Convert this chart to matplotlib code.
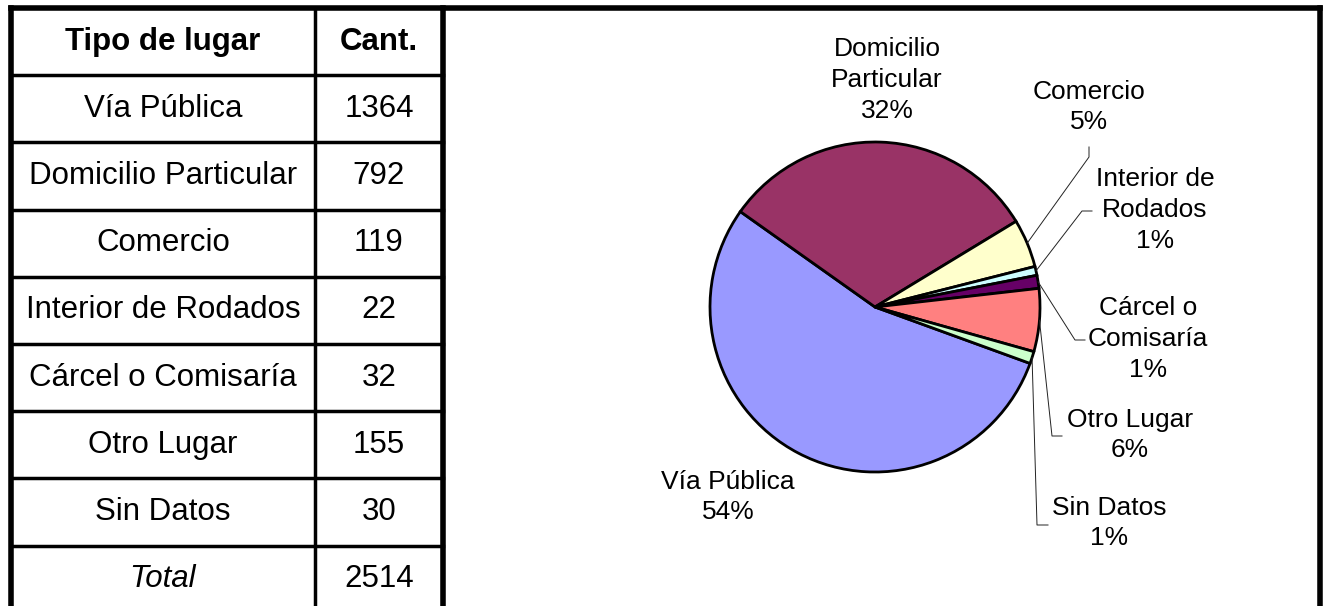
# Tabla y gráfico de torta: tipo de lugar

import numpy as np
import matplotlib.pyplot as plt

plt.rcParams['font.family'] = ['Liberation Sans', 'DejaVu Sans']

# Datos
tipos = ["Vía Pública", "Domicilio Particular", "Comercio", "Interior de Rodados",
         "Cárcel o Comisaría", "Otro Lugar", "Sin Datos"]
cantidades = [1364, 792, 119, 22, 32, 155, 30]
total = 2514
etiquetas = ["Vía Pública", "Domicilio\nParticular", "Comercio", "Interior de\nRodados",
             "Cárcel o\nComisaría", "Otro Lugar", "Sin Datos"]
colores = ["#9999FF", "#993366", "#FFFFCC", "#CCFFFF", "#660066", "#FF8080", "#CCFFCC"]

# posiciones de las etiquetas (px desde arriba) y quiebres de las líneas guía
pos_etiquetas = [(728, 497), (887, 80), (1089, 107), (1155, 210),
                 (1148, 339), (1130, 435), (1109, 523)]
quiebres = [None, None,
            [(1089, 157), (1089, 147)],
            [(1082, 211), (1092, 211)],
            [(1075, 340), (1085, 340)],
            [(1052, 436), (1062, 436)],
            [(1037, 525), (1048, 525)]]

W, H = 1327, 606
fig = plt.figure(figsize=(W / 100, H / 100), dpi=100)
ax = fig.add_axes([0, 0, 1, 1])


def Y(y):
    return H - y


# Tabla
top = 8
x_left, x_col, x_right, x_end = 11, 315, 443, 1320
row_h = 67.2
filas = [("Tipo de lugar", "Cant.")] + list(zip(tipos, cantidades)) + [("Total", total)]

for i, (t, c) in enumerate(filas):
    yc = Y(top + row_h * (i + 0.5))
    peso = 'bold' if i == 0 else 'normal'
    ax.text((x_left + x_col) / 2, yc, t, ha='center', va='center', fontsize=22.5,
            fontweight=peso, fontstyle='italic' if i == len(filas) - 1 else 'normal')
    ax.text((x_col + x_right) / 2, yc, str(c), ha='center', va='center', fontsize=22.5,
            fontweight=peso)
    if i > 0:
        ax.plot([x_left, x_right], [Y(top + row_h * i)] * 2, color='black', lw=2.5)

ax.plot([x_col, x_col], [Y(top), 0], color='black', lw=2.5)
for x in [x_left, x_right, x_end]:
    ax.plot([x, x], [Y(top), 0], color='black', lw=4, solid_capstyle='projecting')
ax.plot([x_left, x_end], [Y(top), Y(top)], color='black', lw=4, solid_capstyle='projecting')

# Torta
cx, cy, r = 875, Y(307), 165
wedges, _ = ax.pie(cantidades, colors=colores, startangle=340, counterclock=False,
                   center=(cx, cy), radius=r,
                   wedgeprops=dict(edgecolor='black', linewidth=2))

for w, et, v, (lx, ly), q in zip(wedges, etiquetas, cantidades, pos_etiquetas, quiebres):
    pct = round(v / total * 100)
    ax.text(lx, Y(ly), f"{et}\n{pct}%", ha='center', va='center', fontsize=19,
            linespacing=1.35)
    if q is not None:
        ang = np.deg2rad((w.theta1 + w.theta2) / 2)
        xs = [cx + r * np.cos(ang)] + [p[0] for p in q]
        ys = [cy + r * np.sin(ang)] + [Y(p[1]) for p in q]
        ax.plot(xs, ys, color='#222222', lw=0.7)

ax.set_xlim(0, W)
ax.set_ylim(0, H)
ax.set_aspect('equal')
ax.axis('off')

plt.savefig('out.png', dpi=100)
